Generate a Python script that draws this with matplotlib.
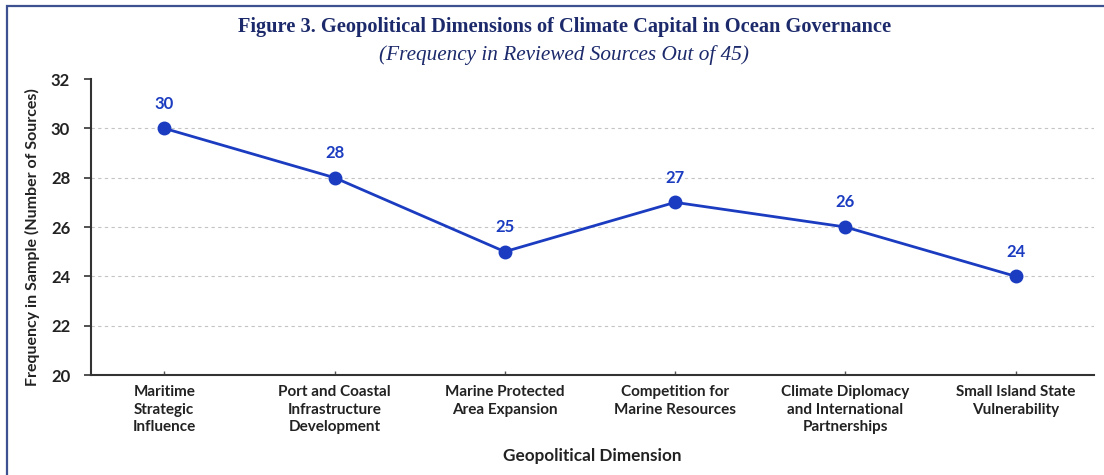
import matplotlib.pyplot as plt
from matplotlib.patches import Rectangle

# Frequency of each geopolitical dimension across 45 reviewed sources
dimensions = [
    "Maritime\nStrategic\nInfluence",
    "Port and Coastal\nInfrastructure\nDevelopment",
    "Marine Protected\nArea Expansion",
    "Competition for\nMarine Resources",
    "Climate Diplomacy\nand International\nPartnerships",
    "Small Island State\nVulnerability",
]
frequency = [30, 28, 25, 27, 26, 24]
y_ticks = [20, 22, 24, 26, 28, 30, 32]

navy = "#1c2a6b"
line_blue = "#1b3cc0"
text_dark = "#222222"
sans = ["Lato", "DejaVu Sans"]
serif = ["Liberation Serif", "DejaVu Serif"]

fig = plt.figure(figsize=(11.04, 4.75), dpi=100)
fig.patch.set_facecolor("white")

# blue frame running off the right and bottom edges
fig.patches.append(Rectangle((7 / 1104, -0.05), 1.1, 1 - 6.5 / 475 + 0.05,
                             transform=fig.transFigure, fill=False,
                             edgecolor="#3d5191", linewidth=1.6, clip_on=False))

ax = fig.add_axes([91 / 1104, 1 - 375 / 475, (1094 - 91) / 1104, (375 - 79) / 475])
x = list(range(len(dimensions)))
ax.plot(x, frequency, color=line_blue, linewidth=2.0, marker="o",
        markersize=9, markerfacecolor=line_blue, markeredgecolor=line_blue, zorder=3)

for xi, v in zip(x, frequency):
    ax.annotate(str(v), (xi, v), xytext=(0, 12), textcoords="offset points",
                ha="center", va="bottom", fontsize=12, fontweight="bold",
                color=line_blue, family=sans)

ax.set_xlim(-0.43, 5.46)
ax.set_ylim(20, 32)
ax.set_yticks(y_ticks)
ax.set_xticks(x)
ax.set_xticklabels(dimensions, fontsize=11, fontweight="bold", color=text_dark,
                   family=sans, linespacing=1.35)
for lab in ax.get_yticklabels():
    lab.set_fontsize(12)
    lab.set_fontweight("bold")
    lab.set_color(text_dark)
    lab.set_family(sans)

for g in [22, 24, 26, 28, 30]:
    ax.axhline(g, color="#c4c4c4", linestyle=(0, (3, 3)), linewidth=0.8, zorder=1)

for side in ["top", "right"]:
    ax.spines[side].set_visible(False)
for side in ["left", "bottom"]:
    ax.spines[side].set_color("#333333")
    ax.spines[side].set_linewidth(1.5)
ax.tick_params(axis="y", direction="out", length=5, width=1.2, color="#333333", pad=10)
ax.tick_params(axis="x", direction="in", length=3, width=1, color="#555555", pad=7)

ax.set_ylabel("Frequency in Sample (Number of Sources)", fontsize=11.5,
              fontweight="bold", color=text_dark, family=sans)
ax.yaxis.set_label_coords(-0.051, 0.465)
ax.set_xlabel("Geopolitical Dimension", fontsize=12.3, fontweight="bold",
              color=text_dark, family=sans, labelpad=10)

fig.text(0.511, 1 - 27 / 475, "Figure 3. Geopolitical Dimensions of Climate Capital in Ocean Governance",
         ha="center", va="center", fontsize=14.7, fontweight="bold", color=navy, family=serif)
fig.text(0.511, 1 - 55 / 475, "(Frequency in Reviewed Sources Out of 45)",
         ha="center", va="center", fontsize=15.3, style="italic", color=navy, family=serif)

fig.savefig("out.png", dpi=100)
